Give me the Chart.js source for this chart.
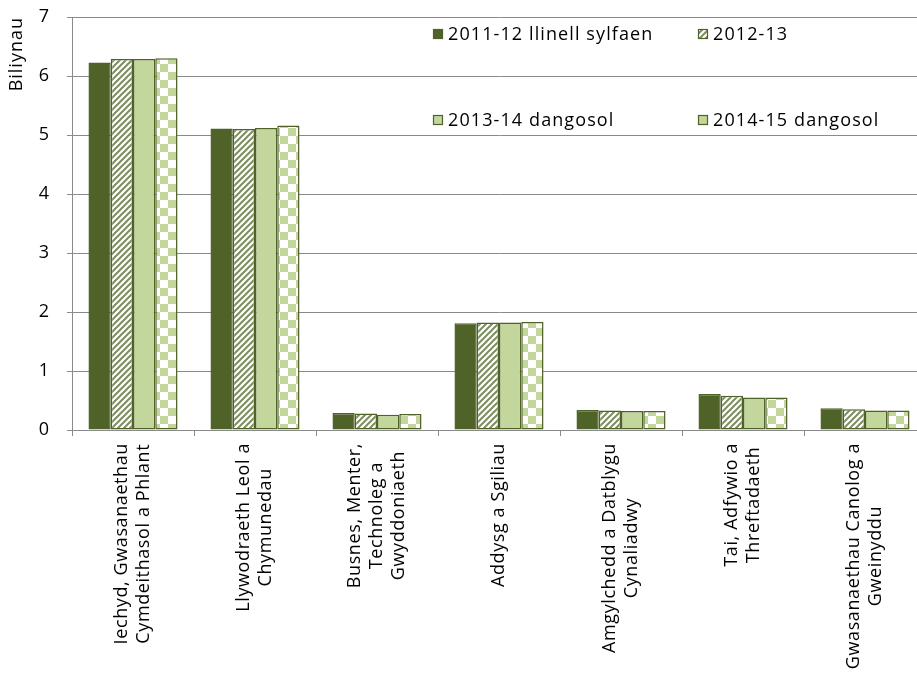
<!DOCTYPE html>
<html>
<head>
<meta charset="utf-8">
<script src="https://cdn.jsdelivr.net/npm/chart.js@4/dist/chart.umd.min.js"></script>
<style>
html,body{margin:0;padding:0;background:#fff;overflow:hidden;}
#wrap{width:917px;height:677px;overflow:hidden;position:relative;}
canvas{display:block;}
</style>
</head>
<body>
<div id="wrap"><canvas id="c" width="930" height="677"></canvas></div>
<script>
const categories = [
  ["Iechyd, Gwasanaethau", "Cymdeithasol a Phlant"],
  ["Llywodraeth Leol a", "Chymunedau"],
  ["Busnes, Menter,", "Technoleg a", "Gwyddoniaeth"],
  ["Addysg a Sgiliau"],
  ["Amgylchedd a Datblygu", "Cynaliadwy"],
  ["Tai, Adfywio a", "Threftadaeth"],
  ["Gwasanaethau Canolog a", "Gweinyddu"]
];
const seriesNames = ["2011-12 llinell sylfaen", "2012-13", "2013-14 dangosol", "2014-15 dangosol"];
const s2011 = [6.23, 5.11, 0.29, 1.81, 0.34, 0.61, 0.37];
const s2012 = [6.29, 5.10, 0.28, 1.82, 0.33, 0.58, 0.35];
const s2013 = [6.29, 5.12, 0.26, 1.82, 0.32, 0.55, 0.33];
const s2014 = [6.30, 5.16, 0.27, 1.83, 0.32, 0.55, 0.33];
const yTicks = [0, 1, 2, 3, 4, 5, 6, 7];
const yTitle = "Biliynau";

const DARK = '#4f6228';
const LIGHT = '#c3d69b';
const FONT = '"Open Sans", "DejaVu Sans", sans-serif';

function hatchPattern() {
  const s = 6;
  const c = document.createElement('canvas'); c.width = s; c.height = s;
  const g = c.getContext('2d');
  g.fillStyle = '#ffffff'; g.fillRect(0, 0, s, s);
  g.strokeStyle = '#7d8d60'; g.lineWidth = 2;
  g.beginPath();
  g.moveTo(0, s); g.lineTo(s, 0);
  g.moveTo(-s/2, s/2); g.lineTo(s/2, -s/2);
  g.moveTo(s/2, s*1.5); g.lineTo(s*1.5, s/2);
  g.stroke();
  return g.createPattern(c, 'repeat');
}
function checkPattern() {
  const s = 8;
  const c = document.createElement('canvas'); c.width = s*2; c.height = s*2;
  const g = c.getContext('2d');
  g.fillStyle = '#ffffff'; g.fillRect(0, 0, s*2, s*2);
  g.fillStyle = LIGHT;
  g.fillRect(0, 0, s, s); g.fillRect(s, s, s, s);
  return g.createPattern(c, 'repeat');
}
const HATCH = hatchPattern();
const CHECK = checkPattern();
const fills = [DARK, HATCH, LIGHT, CHECK];

const spacingPlugin = {
  id: 'spacing',
  beforeDraw(chart) { chart.ctx.letterSpacing = '1px'; }
};

const xLabelsPlugin = {
  id: 'xLabels',
  afterDraw(chart) {
    const ctx = chart.ctx, xs = chart.scales.x;
    ctx.save();
    ctx.font = '18px ' + FONT;
    ctx.letterSpacing = '0.6px';
    ctx.fillStyle = '#000';
    const lh = 22;
    categories.forEach((lines, i) => {
      const cx = xs.getPixelForValue(i);
      const maxW = Math.max(...lines.map(l => ctx.measureText(l).width));
      const n = lines.length;
      lines.forEach((l, j) => {
        const x = cx + (j - (n - 1) / 2) * lh;
        ctx.save();
        ctx.translate(x, xs.top + 13 + maxW / 2);
        ctx.rotate(-Math.PI / 2);
        ctx.textAlign = 'center';
        ctx.textBaseline = 'middle';
        ctx.fillText(l, 0, 0);
        ctx.restore();
      });
    });
    ctx.restore();
  }
};

const legendPlugin = {
  id: 'customLegend',
  afterDraw(chart) {
    const ctx = chart.ctx;
    const pos = [[433, 34], [698, 34], [433, 120], [698, 120]];
    ctx.save();
    ctx.font = '18px ' + FONT;
    ctx.letterSpacing = '1.1px';
    ctx.textBaseline = 'middle';
    ctx.textAlign = 'left';
    seriesNames.forEach((name, i) => {
      const [x, y] = pos[i];
      const bs = 10;
      ctx.fillStyle = i === 3 ? LIGHT : fills[i];
      ctx.fillRect(x, y - bs/2, bs, bs);
      ctx.strokeStyle = DARK; ctx.lineWidth = 1.2;
      ctx.strokeRect(x + 0.5, y - bs/2 + 0.5, bs - 1, bs - 1);
      ctx.fillStyle = '#000';
      ctx.fillText(name, x + 15, y + 1);
    });
    ctx.restore();
  }
};

const datasets = [s2011, s2012, s2013, s2014].map((d, i) => ({
  label: seriesNames[i],
  data: d,
  backgroundColor: fills[i],
  borderColor: DARK,
  borderWidth: 1.5,
  borderSkipped: false,
  categoryPercentage: 0.73,
  barPercentage: 1.0
}));

new Chart(document.getElementById('c'), {
  type: 'bar',
  data: { labels: categories.map(c => c.join(' ')), datasets },
  plugins: [spacingPlugin, xLabelsPlugin, legendPlugin],
  options: {
    responsive: false,
    animation: false,
    layout: { padding: { top: 17, right: 4, left: 0, bottom: 0 } },
    plugins: { legend: { display: false }, tooltip: { enabled: false } },
    scales: {
      x: {
        grid: { display: true, drawOnChartArea: false, drawTicks: true, tickLength: 6, color: '#8a8a8a', offset: true },
        border: { display: true, color: '#8a8a8a', width: 1 },
        ticks: { display: false },
        afterFit(s) { s.height = 247; s.paddingLeft = 0; s.paddingRight = 0; }
      },
      y: {
        min: 0, max: 7,
        afterBuildTicks(s) { s.ticks = yTicks.map(v => ({ value: v })); },
        grid: { color: '#8a8a8a', lineWidth: 1, drawTicks: true, tickLength: 5 },
        border: { display: true, color: '#8a8a8a', width: 1 },
        ticks: { font: { family: FONT, size: 18 }, color: '#000', padding: 17 },
        title: { display: true, text: yTitle, align: 'end', font: { family: FONT, size: 18 }, color: '#000', padding: { top: 6, bottom: 0 } },
        afterFit(s) { s.width = 72; s.paddingTop = 0; s.paddingBottom = 0; }
      }
    }
  }
});
</script>
</body>
</html>
